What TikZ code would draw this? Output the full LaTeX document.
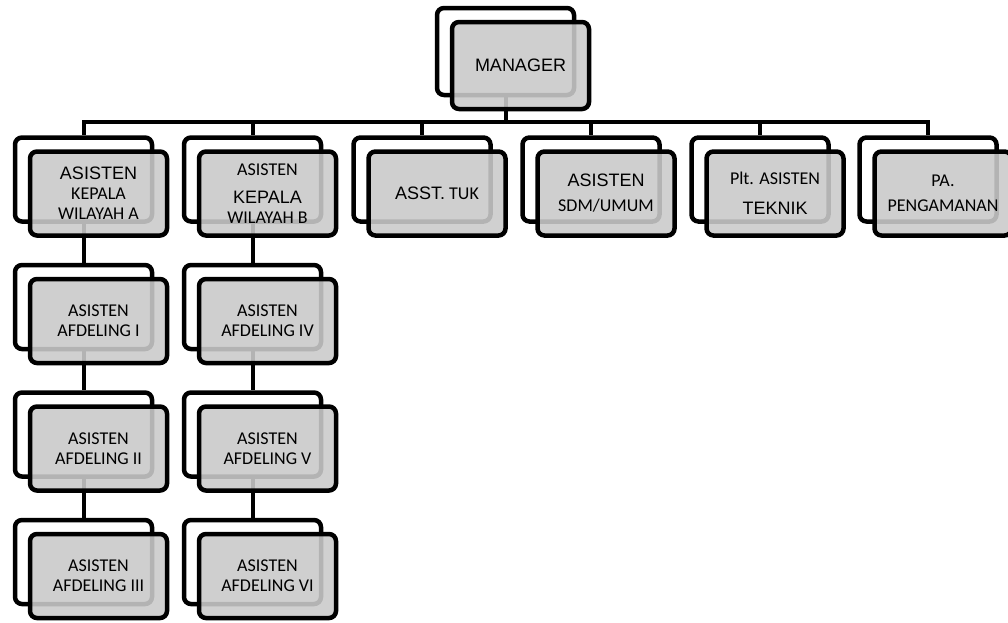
\documentclass[tikz,border=0pt]{standalone}
\usepackage{fontspec}
\setmainfont{Carlito}
\newfontfamily\arialf{Liberation Sans}
\definecolor{frontgray}{RGB}{202,202,202}
\tikzset{
  box/.style={draw=black, line width=4.5pt, rounded corners=7pt, minimum width=137pt, minimum height=84pt, inner sep=0pt},
  backbox/.style={box, fill=white},
  frontbox/.style={box, fill=frontgray, fill opacity=0.89, text opacity=1, align=center, font=\fontsize{18}{20}\selectfont},
  conn/.style={draw=black, line width=4pt}
}
\begin{document}
\begin{tikzpicture}[x=1pt,y=-1pt]
\useasboundingbox (0,0) rectangle (1008,622);
% back boxes
\node[backbox, minimum height=87pt] (m-b) at (505.5,51.5) {};
\node[backbox] (a-b)   at (83.5,179.5) {};
\node[backbox] (b-b)   at (252.5,179.5) {};
\node[backbox] (tuk-b) at (422,179.5) {};
\node[backbox] (sdm-b) at (591,179.5) {};
\node[backbox] (plt-b) at (760,179.5) {};
\node[backbox] (pa-b)  at (928,179.5) {};
\node[backbox] (a1-b)  at (83.5,307) {};
\node[backbox] (a2-b)  at (83.5,434.5) {};
\node[backbox] (a3-b)  at (83.5,562) {};
\node[backbox] (b1-b)  at (252.5,307) {};
\node[backbox] (b2-b)  at (252.5,434.5) {};
\node[backbox] (b3-b)  at (252.5,562) {};
% connectors
\coordinate (bar) at (505.5,121.5);
\draw[conn] (m-b.south) -- (bar);
\foreach \n in {a,b,tuk,sdm,plt,pa}{
  \draw[conn] (bar) -| (\n-b.north);
}
\draw[conn] (a-b.south) -- (a1-b.north);
\draw[conn] (a1-b.south) -- (a2-b.north);
\draw[conn] (a2-b.south) -- (a3-b.north);
\draw[conn] (b-b.south) -- (b1-b.north);
\draw[conn] (b1-b.south) -- (b2-b.north);
\draw[conn] (b2-b.south) -- (b3-b.north);
% front boxes
\node[frontbox, minimum height=87pt] (m-f) at (520.5,65.5) {\raisebox{-3pt}{\arialf MANAGER}};
\node[frontbox] (a-f)   at (98.5,193.5) {{\arialf ASISTEN}\\KEPALA\\WILAYAH A};
\node[frontbox] (b-f)   at (267.5,193.5) {ASISTEN\\[8pt]{\arialf KEPALA}\\WILAYAH B};
\node[frontbox] (tuk-f) at (437,193.5) {{\arialf ASST.} TUK};
\node[frontbox] (sdm-f) at (606,193.5) {{\arialf ASISTEN}\\[5pt]SDM/UMUM};
\node[frontbox] (plt-f) at (775,193.5) {Plt. ASISTEN\\[10pt]{\arialf TEKNIK}};
\node[frontbox] (pa-f)  at (943,193.5) {PA.\\[5pt]PENGAMANAN};
\node[frontbox] (a1-f)  at (98.5,321) {ASISTEN\\AFDELING I};
\node[frontbox] (a2-f)  at (98.5,448.5) {ASISTEN\\AFDELING II};
\node[frontbox] (a3-f)  at (98.5,576) {ASISTEN\\AFDELING III};
\node[frontbox] (b1-f)  at (267.5,321) {ASISTEN\\AFDELING IV};
\node[frontbox] (b2-f)  at (267.5,448.5) {ASISTEN\\AFDELING V};
\node[frontbox] (b3-f)  at (267.5,576) {ASISTEN\\AFDELING VI};
\end{tikzpicture}
\end{document}
